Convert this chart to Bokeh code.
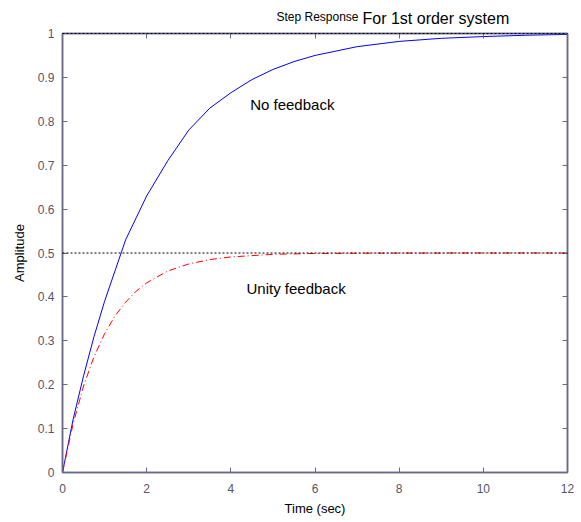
from bokeh.plotting import figure
from bokeh.models import LinearAxis, FixedTicker, Label, Range1d
from bokeh.embed import file_html
from bokeh.resources import INLINE

# data
t_open = [0, 0.25, 0.5, 0.75, 1.0, 1.25, 1.5, 1.75, 2.0, 2.5, 3.0, 3.5, 4.0, 4.5, 5.0, 5.5, 6.0, 7.0, 8.0, 9.0, 10.0, 11.0, 12.0]
y_open = [0, 0.12, 0.22, 0.31, 0.39, 0.46, 0.53, 0.58, 0.63, 0.71, 0.78, 0.83, 0.865, 0.895, 0.918, 0.936, 0.95, 0.97, 0.982, 0.989, 0.993, 0.996, 0.998]
t_closed = [0, 0.25, 0.5, 0.75, 1.0, 1.25, 1.5, 1.75, 2.0, 2.5, 3.0, 3.5, 4.0, 5.0, 6.0, 7.0, 8.0, 10.0, 12.0]
y_closed = [0, 0.11, 0.197, 0.264, 0.316, 0.357, 0.388, 0.413, 0.432, 0.459, 0.475, 0.485, 0.491, 0.497, 0.499, 0.4995, 0.4998, 0.5, 0.5]
ref_levels = [1.0, 0.5]
x_ticks = [0, 2, 4, 6, 8, 10, 12]
y_ticks = [0, 0.1, 0.2, 0.3, 0.4, 0.5, 0.6, 0.7, 0.8, 0.9, 1.0]
y_tick_labels = ["0", "0.1", "0.2", "0.3", "0.4", "0.5", "0.6", "0.7", "0.8", "0.9", "1"]

AX = "#6a6a88"
TXT = "#555566"
FONT = "Liberation Sans"

p = figure(width=581, height=522, output_backend="svg", toolbar_location=None,
           x_range=Range1d(0, 12), y_range=Range1d(0, 1),
           x_axis_label="Time (sec)", y_axis_label="Amplitude")
p.min_border_left = 62
p.min_border_right = 14
p.min_border_top = 33
p.min_border_bottom = 50
p.background_fill_color = "white"
p.border_fill_color = "white"
p.grid.visible = False
p.outline_line_color = AX
p.outline_line_width = 1.5

p.line(t_open, y_open, line_color="blue", line_width=1)
p.line(t_closed, y_closed, line_color="red", line_width=1, line_dash="7 3 1 3")
for lv in ref_levels:
    p.line(x=[0, 12], y=[lv, lv], line_color="black", line_dash="2 2", line_width=1, level="overlay")

def style(ax):
    ax.axis_line_color = AX
    ax.axis_line_width = 1.5
    ax.major_tick_line_color = AX
    ax.major_tick_in = 5
    ax.major_tick_out = 0
    ax.minor_tick_line_color = None
    ax.major_label_text_font = FONT
    ax.major_label_text_font_size = "12px"
    ax.major_label_text_color = TXT
    ax.axis_label_text_font = FONT
    ax.axis_label_text_font_size = "13px"
    ax.axis_label_text_font_style = "normal"
    ax.axis_label_text_color = "black"

xa = p.xaxis[0]
xa.ticker = FixedTicker(ticks=x_ticks)
style(xa)
xa.major_label_standoff = 11
xa.axis_label_standoff = 5

ya = p.yaxis[0]
ya.ticker = FixedTicker(ticks=y_ticks)
ya.major_label_overrides = {v: s for v, s in zip(y_ticks, y_tick_labels)}
style(ya)
ya.major_label_standoff = 8
ya.axis_label_standoff = 8

top = LinearAxis(ticker=FixedTicker(ticks=x_ticks))
style(top)
top.major_label_overrides = {v: "" for v in x_ticks}
p.add_layout(top, "above")
right = LinearAxis(ticker=FixedTicker(ticks=y_ticks))
style(right)
right.major_label_overrides = {v: "" for v in y_ticks}
p.add_layout(right, "right")

p.add_layout(Label(x=5.46, y=0.818, text="No feedback", text_font=FONT,
                   text_font_size="15px", text_color="black", text_align="center"))
p.add_layout(Label(x=5.55, y=0.40, text="Unity feedback", text_font=FONT,
                   text_font_size="15px", text_color="black", text_align="center"))
p.add_layout(Label(x=296, y=17, x_units="screen", y_units="screen", text="Step Response",
                   text_font=FONT, text_font_size="12px", text_color="black", text_align="right",
                   text_baseline="alphabetic"),
             "above")
p.add_layout(Label(x=300, y=1, x_units="screen", y_units="screen", text="For 1st order system",
                   text_font=FONT, text_font_size="16px", text_color="black", text_align="left",
                   text_baseline="alphabetic"),
             "above")

open("out.html", "w").write(file_html(p, INLINE))
